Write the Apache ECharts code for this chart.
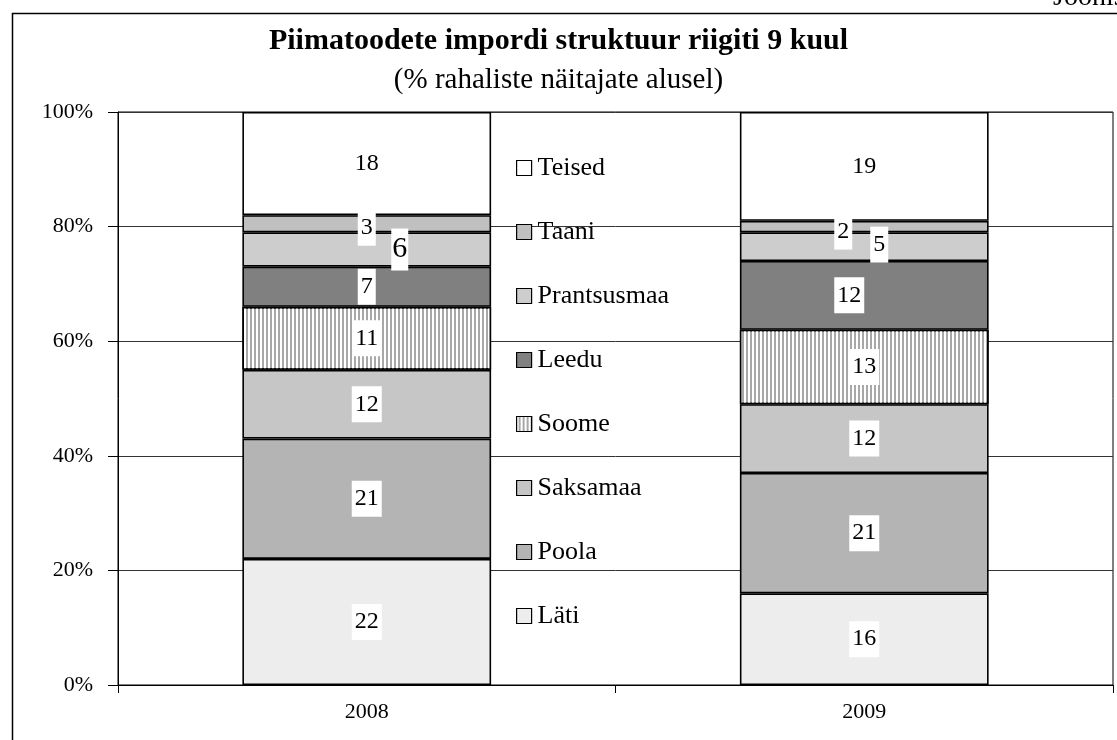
<!DOCTYPE html>
<html>
<head>
<meta charset="utf-8">
<script src="https://cdn.jsdelivr.net/npm/echarts@6/dist/echarts.min.js"></script>
<style>
  html, body { margin: 0; padding: 0; background: #fff; }
  #chart { width: 1117px; height: 740px; }
</style>
</head>
<body>
<div id="chart"></div>
<script>
// ---- data ----
const categories = ['2008', '2009'];
const seriesNames = ['Läti', 'Poola', 'Saksamaa', 'Soome', 'Leedu', 'Prantsusmaa', 'Taani', 'Teised'];
const latiValues = [22, 16];
const poolaValues = [21, 21];
const saksamaaValues = [12, 12];
const soomeValues = [11, 13];
const leeduValues = [7, 12];
const prantsusmaaValues = [6, 5];
const taaniValues = [3, 2];
const teisedValues = [18, 19];
const yTickValues = [0, 20, 40, 60, 80, 100];

const allValues = [latiValues, poolaValues, saksamaaValues, soomeValues, leeduValues, prantsusmaaValues, taaniValues, teisedValues];

// ---- styling ----
const FONT = '"Liberation Serif", "Times New Roman", serif';
const colors = ['#ededed', '#b4b4b4', '#c6c6c6', '#a8a8a8', '#808080', '#cdcdcd', '#c0c0c0', '#ffffff'];
const decals = {
  'Soome': { symbol: 'rect', symbolSize: 1, dashArrayX: [[1.5, 1.5]], dashArrayY: [20, 0], color: '#ffffff', rotation: 0 }
};
// per-label tweaks (series name -> per-category overrides)
const labelTweaks = {
  'Taani': [{ offset: [0, 4] }, { offset: [-21, 5] }],
  'Prantsusmaa': [{ offset: [33, 0], fontSize: 30, padding: [6, 1, 6, 1] }, { offset: [15, -2] }],
  'Leedu': [{}, { offset: [-15, 0] }]
};

const series = seriesNames.map((name, si) => {
  const vals = allValues[si];
  return {
    name: name,
    type: 'bar',
    stack: 'total',
    barWidth: '50%',
    itemStyle: {
      color: colors[si],
      borderColor: '#000',
      borderWidth: 1.6,
      decal: decals[name] || null
    },
    label: {
      show: true,
      position: 'inside',
      fontFamily: FONT,
      fontSize: 24,
      color: '#000',
      backgroundColor: '#fff',
      padding: [6, 3, 6, 3],
      formatter: p => String(p.value)
    },
    emphasis: { disabled: true },
    data: vals.map((v, ci) => {
      const tw = labelTweaks[name] && labelTweaks[name][ci];
      return tw && Object.keys(tw).length ? { value: v, label: tw } : v;
    })
  };
});

const chart = echarts.init(document.getElementById('chart'), null, { renderer: 'canvas' });
chart.setOption({
  animation: false,
  backgroundColor: '#fff',
  title: [
    {
      text: 'Piimatoodete impordi struktuur riigiti 9 kuul',
      left: 'center', top: 26, padding: 0,
      textStyle: { fontFamily: FONT, fontSize: 30, fontWeight: 'bold', color: '#000' }
    },
    {
      text: '(% rahaliste näitajate alusel)',
      left: 'center', top: 66, padding: 0,
      textStyle: { fontFamily: FONT, fontSize: 29, fontWeight: 'normal', color: '#000' }
    }
  ],
  graphic: [
    {
      type: 'rect', left: 10, top: 11, silent: true, z: -10,
      shape: { width: 1200, height: 800 },
      style: { fill: 'none', stroke: '#000', lineWidth: 1.5 }
    },
    {
      type: 'text', x: 1053, y: 12, silent: true,
      style: { text: 'Joonis 1', font: '28px ' + FONT, fill: '#000', verticalAlign: 'bottom' }
    }
  ],
  legend: {
    orient: 'vertical',
    left: 516, top: 155,
    padding: 0,
    itemWidth: 15, itemHeight: 15,
    itemGap: 38,
    icon: 'rect',
    data: seriesNames.slice().reverse(),
    itemStyle: { borderColor: '#000', borderWidth: 1.2 },
    textStyle: { fontFamily: FONT, fontSize: 26, lineHeight: 26, color: '#000', padding: [0, 0, 0, 1] },
    selectedMode: false
  },
  grid: {
    left: 118, right: 4, top: 112, bottom: 55,
    show: true, borderColor: '#000', borderWidth: 1, backgroundColor: 'transparent'
  },
  xAxis: {
    type: 'category',
    data: categories,
    axisLine: { lineStyle: { color: '#000', width: 1 } },
    axisTick: { show: true, length: 8, lineStyle: { color: '#000' } },
    axisLabel: { fontFamily: FONT, fontSize: 22, color: '#000', margin: 16 }
  },
  yAxis: {
    type: 'value',
    min: yTickValues[0], max: yTickValues[yTickValues.length - 1], interval: 20,
    axisLine: { show: true, lineStyle: { color: '#000', width: 1 } },
    axisTick: { show: true, length: 10, lineStyle: { color: '#000' } },
    axisLabel: { fontFamily: FONT, fontSize: 22, color: '#000', margin: 25, formatter: '{value}%' },
    splitLine: { show: true, lineStyle: { color: '#333', width: 1 } }
  },
  series: series
});
</script>
</body>
</html>
